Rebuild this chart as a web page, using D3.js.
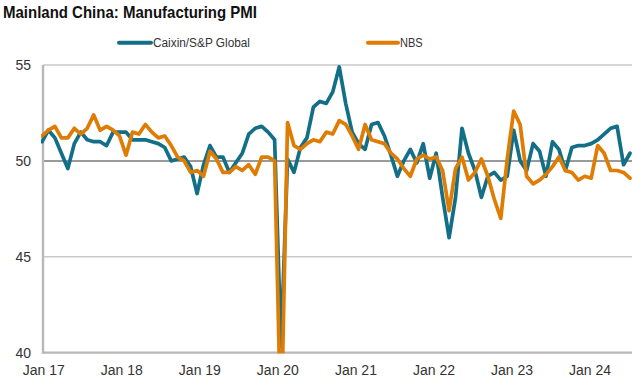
<!DOCTYPE html>
<html>
<head>
<meta charset="utf-8">
<script src="https://cdn.jsdelivr.net/npm/d3@7/dist/d3.min.js"></script>
<style>
  html, body { margin: 0; padding: 0; background: #ffffff; }
  svg { display: block; font-family: "Liberation Sans", Arial, sans-serif; }
</style>
</head>
<body>
<svg id="chart" width="632" height="377"></svg>
<script>
// ---- Data (monthly, Jan 2017 .. Aug 2024) ----
const startYear = 2017;
const xTickLabels = ["Jan 17", "Jan 18", "Jan 19", "Jan 20", "Jan 21", "Jan 22", "Jan 23", "Jan 24"];
const yTickValues = [40, 45, 50, 55];
const seriesNames = ["Caixin/S&P Global", "NBS"];

const caixin = [
  51.0, 51.6, 51.2, 50.4, 49.6, 50.9, 51.5, 51.1, 51.0, 51.0, 50.8, 51.5,
  51.5, 51.5, 51.1, 51.1, 51.1, 51.0, 50.9, 50.7, 50.0, 50.1, 50.2, 49.7,
  48.3, 49.8, 50.8, 50.2, 50.2, 49.4, 49.9, 50.4, 51.4, 51.7, 51.8, 51.5,
  51.1, 40.3, 50.1, 49.4, 50.7, 51.2, 52.8, 53.1, 53.0, 53.6, 54.9, 53.0,
  51.5, 50.9, 50.6, 51.9, 52.0, 51.3, 50.3, 49.2, 50.0, 50.6, 49.9, 50.9,
  49.1, 50.4, 48.1, 46.0, 48.1, 51.7, 50.4, 49.5, 48.1, 49.2, 49.4, 49.0,
  49.2, 51.6, 50.0, 49.5, 50.9, 50.5, 49.2, 51.0, 50.6, 49.5, 50.7, 50.8,
  50.8, 50.9, 51.1, 51.4, 51.7, 51.8, 49.8, 50.4
];

const nbs = [
  51.3, 51.6, 51.8, 51.2, 51.2, 51.7, 51.4, 51.7, 52.4, 51.6, 51.8, 51.6,
  51.3, 50.3, 51.5, 51.4, 51.9, 51.5, 51.2, 51.3, 50.8, 50.2, 50.0, 49.4,
  49.5, 49.2, 50.5, 50.1, 49.4, 49.4, 49.7, 49.5, 49.8, 49.3, 50.2, 50.2,
  50.0, 35.7, 52.0, 50.8, 50.6, 50.9, 51.1, 51.0, 51.5, 51.4, 52.1, 51.9,
  51.3, 50.6, 51.9, 51.1, 51.0, 50.9, 50.4, 50.1, 49.6, 49.2, 50.1, 50.3,
  50.1, 50.2, 49.5, 47.4, 49.6, 50.2, 49.0, 49.4, 50.1, 49.2, 48.0, 47.0,
  50.1, 52.6, 51.9, 49.2, 48.8, 49.0, 49.3, 49.7, 50.2, 49.5, 49.4, 49.0,
  49.2, 49.1, 50.8, 50.4, 49.5, 49.5, 49.4, 49.1
];

// ---- Layout ----
const W = 632, H = 377;
const plot = { left: 43, right: 632, top: 65, bottom: 352.7 };
const colors = { caixin: "#126f87", nbs: "#df7c04" };

const svg = d3.select("#chart");
svg.append("rect").attr("width", W).attr("height", H).attr("fill", "#ffffff");

const n = caixin.length;
const x = d3.scaleLinear().domain([0, n - 1]).range([42, 630]);
const y = d3.scaleLinear().domain([40, 55]).range([plot.bottom, plot.top]);
// label scale for January tick labels
const janIdx = xTickLabels.map((d, i) => i * 12);
const xLab = d3.scaleLinear().domain([0, 84]).range([43.3, 589.5]);

// Title
svg.append("text")
  .attr("x", 3).attr("y", 18)
  .attr("font-size", 17).attr("font-weight", "bold").attr("fill", "#111")
  .attr("textLength", 254).attr("lengthAdjust", "spacingAndGlyphs")
  .text("Mainland China: Manufacturing PMI");

// Legend
const legend = [
  { name: seriesNames[0], color: colors.caixin, x1: 119, x2: 151, tx: 153, tl: 97 },
  { name: seriesNames[1], color: colors.nbs, x1: 368, x2: 398, tx: 400, tl: 22.7 }
];
legend.forEach(l => {
  svg.append("line").attr("x1", l.x1).attr("x2", l.x2).attr("y1", 42.7).attr("y2", 42.7)
    .attr("stroke", l.color).attr("stroke-width", 4).attr("stroke-linecap", "round");
  svg.append("text").attr("x", l.tx).attr("y", 47.2)
    .attr("font-size", 12.5).attr("fill", "#333")
    .attr("textLength", l.tl).attr("lengthAdjust", "spacingAndGlyphs")
    .text(l.name);
});

// Gridlines
const grid = svg.append("g");
yTickValues.forEach(v => {
  let stroke = "#c8c8c8", sw = 1.5;
  if (v === 50) { stroke = "#9a9a9a"; sw = 2; }
  if (v === 40) { stroke = "#b8b8b8"; sw = 2.2; }
  grid.append("line")
    .attr("x1", plot.left).attr("x2", plot.right)
    .attr("y1", y(v)).attr("y2", y(v))
    .attr("stroke", stroke).attr("stroke-width", sw);
});
// left axis line
grid.append("line").attr("x1", plot.left).attr("x2", plot.left)
  .attr("y1", plot.top).attr("y2", plot.bottom + 1)
  .attr("stroke", "#b8b8b8").attr("stroke-width", 2.4);

// Y axis labels
const yAxis = d3.axisLeft(y).tickValues(yTickValues).tickSize(0).tickPadding(12).tickFormat(d3.format("d"));
const gy = svg.append("g").attr("transform", `translate(${plot.left},0)`).call(yAxis);
gy.select(".domain").remove();
gy.selectAll("text").attr("font-size", 14).attr("fill", "#333").attr("font-family", "'Liberation Sans', Arial, sans-serif");

// X axis labels
const xAxis = d3.axisBottom(xLab).tickValues(janIdx).tickSize(0).tickPadding(12)
  .tickFormat((d, i) => xTickLabels[i]);
const gx = svg.append("g").attr("transform", `translate(0,${plot.bottom})`).call(xAxis);
gx.select(".domain").remove();
gx.selectAll("text").attr("font-size", 14).attr("fill", "#333").attr("font-family", "'Liberation Sans', Arial, sans-serif");

// Clip
svg.append("clipPath").attr("id", "clip").append("rect")
  .attr("x", plot.left - 2).attr("y", 40).attr("width", plot.right - plot.left + 4)
  .attr("height", plot.bottom - 40 + 0.5);

const line = d3.line().x((d, i) => x(i)).y(d => y(d));
const lines = svg.append("g").attr("clip-path", "url(#clip)");
lines.append("path").datum(caixin).attr("d", line)
  .attr("fill", "none").attr("stroke", colors.caixin).attr("stroke-width", 3.7)
  .attr("stroke-linejoin", "round").attr("stroke-linecap", "round");
lines.append("path").datum(nbs).attr("d", line)
  .attr("fill", "none").attr("stroke", colors.nbs).attr("stroke-width", 3.7)
  .attr("stroke-linejoin", "round").attr("stroke-linecap", "round");
</script>
</body>
</html>
